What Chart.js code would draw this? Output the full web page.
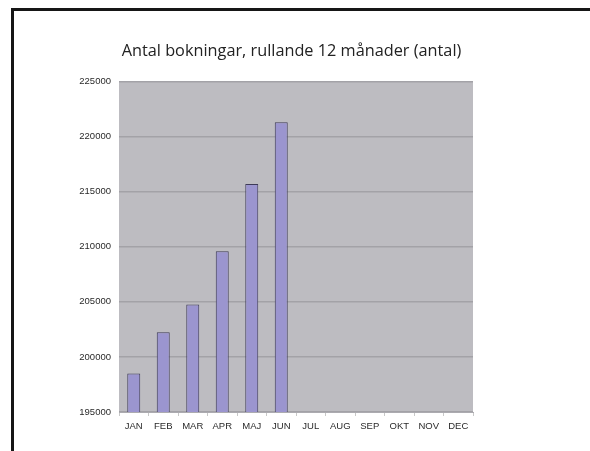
<!DOCTYPE html>
<html>
<head>
<meta charset="utf-8">
<script src="https://cdn.jsdelivr.net/npm/chart.js@4"></script>
<style>
  html, body { margin: 0; padding: 0; background: #fff; }
  #wrap { position: relative; width: 590px; height: 451px; overflow: hidden; }
  #frame {
    position: absolute; left: 11px; top: 8px; width: 620px; height: 480px;
    border-top: 3px solid #161616; border-left: 3px solid #161616;
    pointer-events: none;
  }
</style>
</head>
<body>
<div id="wrap">
  <canvas id="bookings" width="590" height="451"></canvas>
  <div id="frame"></div>
</div>
<script>
const months = ['JAN', 'FEB', 'MAR', 'APR', 'MAJ', 'JUN', 'JUL', 'AUG', 'SEP', 'OKT', 'NOV', 'DEC'];
const bookings = [198500, 202250, 204750, 209600, 215700, 221300, null, null, null, null, null, null];
const yTicks = [195000, 200000, 205000, 210000, 215000, 220000, 225000];

// gray plot background
const plotBg = {
  id: 'plotBg',
  beforeDraw(chart) {
    const a = chart.chartArea, ctx = chart.ctx;
    ctx.save();
    ctx.fillStyle = '#bdbcc1';
    ctx.fillRect(a.left, a.top, a.right - a.left, a.bottom - a.top);
    ctx.restore();
  }
};

const ctx = document.getElementById('bookings');

new Chart(ctx, {
  type: 'bar',
  data: {
    labels: months,
    datasets: [{
      data: bookings,
      backgroundColor: '#9b95cf',
      borderColor: '#3e3b58',
      borderWidth: 1,
      barPercentage: 0.44,
      categoryPercentage: 1
    }]
  },
  options: {
    responsive: false,
    animation: false,
    layout: {
      padding: { left: 0, right: 7, top: 0, bottom: 0 }
    },
    plugins: {
      legend: { display: false },
      tooltip: { enabled: false },
      title: {
        display: true,
        text: 'Antal bokningar, rullande 12 månader (antal)',
        color: '#222',
        font: { family: 'Open Sans', size: 16.3, weight: 'normal' },
        padding: { top: 42, bottom: 20 }
      }
    },
    scales: {
      y: {
        min: 195000,
        max: 225000,
        afterBuildTicks: (axis) => { axis.ticks = yTicks.map(v => ({ value: v })); },
        afterFit: (axis) => { axis.width = 119; },
        border: { display: false },
        grid: { color: '#a3a2a7', lineWidth: 1.5, drawTicks: false },
        ticks: {
          color: '#2a2a2a',
          padding: 8,
          font: { family: 'Liberation Sans', size: 9.5 },
          callback: (v) => String(v)
        }
      },
      // empty right axis, only keeps the blank space right of the plot
      spacer: {
        position: 'right',
        afterFit: (axis) => { axis.width = 110; },
        border: { display: false },
        grid: { display: false },
        ticks: { display: false }
      },
      x: {
        afterFit: (axis) => { axis.height = 39; },
        border: { display: true, color: '#acabb0' },
        grid: { drawOnChartArea: false, tickLength: 4, color: '#c8c8c8' },
        ticks: {
          color: '#2a2a2a',
          padding: 5,
          maxRotation: 0,
          autoSkip: false,
          font: { family: 'Liberation Sans', size: 9.5 }
        }
      }
    }
  },
  plugins: [plotBg]
});
</script>
</body>
</html>
